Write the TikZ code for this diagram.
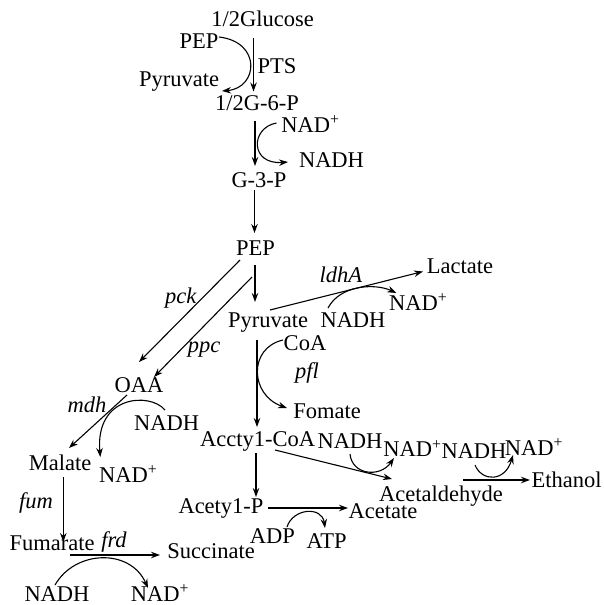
\documentclass[tikz,border=0pt]{standalone}
\usepackage{fontspec}
\setmainfont{Liberation Serif}
\usetikzlibrary{arrows.meta,calc}
\begin{document}
\begin{tikzpicture}[x=1pt,y=-1pt,
  txt/.style={anchor=base, inner sep=0pt, font=\fontsize{22.5}{27}\selectfont},
  arr/.style={-{Stealth[length=9pt,width=6.5pt]}, line width=1.1pt}]
\useasboundingbox (0,0) rectangle (603,605);
% nodes
\node[txt] (glu) at (262.5,27) {1/2Glucose};
\node[txt] (pepA) at (199,48) {PEP};
\node[txt] (pts) at (277,73) {PTS};
\node[txt] (pyrA) at (179,86) {Pyruvate};
\node[txt] (g6p) at (257,110) {1/2G-6-P};
\node[txt] (nadA) at (310.4,132) {NAD\textsuperscript{+}};
\node[txt] (nadhA) at (331.5,167) {NADH};
\node[txt] (g3p) at (259,187) {G-3-P};
\node[txt] (pepB) at (255.5,255) {PEP};
\node[txt] (pyrB) at (268,327) {Pyruvate};
\node[txt] (lac) at (460,273) {Lactate};
\node[txt] (ldha) at (341,282) {\textit{ldhA}};
\node[txt] (nadB) at (418.3,310) {NAD\textsuperscript{+}};
\node[txt] (nadhB) at (353,327) {NADH};
\node[txt] (pck) at (181,303) {\textit{pck}};
\node[txt] (ppc) at (204,352) {\textit{ppc}};
\node[txt] (coa) at (305,350) {CoA};
\node[txt] (pfl) at (307,378) {\textit{pfl}};
\node[txt] (oaa) at (139,392) {OAA};
\node[txt] (mdh) at (87,412) {\textit{mdh}};
\node[txt] (nadhC) at (166.7,430) {NADH};
\node[txt] (fom) at (327,418) {Fomate};
\node[txt] (acoa) at (257.7,446) {Accty1-CoA};
\node[txt] (nadhD) at (350,448) {NADH};
\node[txt] (nadD) at (412.5,456.7) {NAD\textsuperscript{+}};
\node[txt] (nadhE) at (474,458) {NADH};
\node[txt] (nadE) at (534,455) {NAD\textsuperscript{+}};
\node[txt] (ald) at (441,501) {Acetaldehyde};
\node[txt] (eth) at (566.7,487.5) {Ethanol};
\node[txt] (mal) at (60,470) {Malate};
\node[txt] (nadC) at (128.3,482) {NAD\textsuperscript{+}};
\node[txt] (fum) at (36,508) {\textit{fum}};
\node[txt] (acp) at (221,513) {Acety1-P};
\node[txt] (ace) at (383,518) {Acetate};
\node[txt] (adp) at (272.5,543) {ADP};
\node[txt] (atp) at (326.7,548) {ATP};
\node[txt] (fuma) at (52,550) {Fumarate};
\node[txt] (frd) at (114,547) {\textit{frd}};
\node[txt] (suc) at (211,558) {Succinate};
\node[txt] (nadhF) at (57,601) {NADH};
\node[txt] (nadF) at (160,601) {NAD\textsuperscript{+}};
% straight connectors
\draw[arr] ($(glu.base)+(-9,11)$) -- ($(g6p.base)+(-3.5,-18.5)$);
\draw[arr] ($(g6p.base)+(-2,11)$) -- ($(g3p.base)+(-4,-21)$);
\draw[arr] ($(g3p.base)+(-4.5,3)$) -- ($(pepB.base)+(-1,-22)$);
\draw[arr] ($(pepB.base)+(-0.5,10)$) -- ($(pyrB.base)+(-13,-25)$);
\draw[arr] ($(pepB.base)+(-15.5,5)$) -- ($(oaa.base)+(0,-30)$);
\draw[arr] ($(pepB.base)+(-3.5,22)$) -- ($(oaa.base)+(15,-15)$);
\draw[arr] ($(pyrB.base)+(2,-17)$) -- ($(lac.base)+(-37,-1.5)$);
\draw[arr] ($(pyrB.base)+(-11,13)$) -- ($(acoa.base)+(-0.7,-19)$);
\draw[arr] ($(oaa.base)+(-12,3)$) -- ($(mal.base)+(9,-22)$);
\draw[arr] ($(mal.base)+(3.3,7)$) -- ($(fuma.base)+(11.3,-8)$);
\draw[arr] ($(fuma.base)+(18,5)$) -- ($(suc.base)+(-51,-3)$);
\draw[arr] ($(acoa.base)+(-1.7,7)$) -- ($(acp.base)+(35,-16)$);
\draw[arr] ($(acoa.base)+(17.3,4)$) -- ($(ald.base)+(-49,-22)$);
\draw[arr] ($(ald.base)+(22,-21)$) -- ($(eth.base)+(-36.7,-7.5)$);
\draw[arr] ($(acp.base)+(47,-5)$) -- ($(ace.base)+(-35,-10)$);
% curved connectors
\draw[arr] ($(pepA.base)+(20,-11)$) .. controls (262,42) and (258,88) .. ($(pyrA.base)+(43,5)$);
\draw[arr] ($(nadA.base)+(-34,-9)$) .. controls (250,128) and (250,165) .. ($(nadhA.base)+(-43.5,-5)$);
\draw[arr] ($(nadhB.base)+(-25,-19)$) .. controls (340,285) and (375,283) .. ($(nadB.base)+(-22,-17)$);
\draw[arr] ($(coa.base)+(-22,-10)$) .. controls (248,348) and (250,395) .. ($(fom.base)+(-40,-10)$);
\draw[arr] ($(nadhC.base)+(-1.7,-20)$) .. controls (150,392) and (95,395) .. ($(nadC.base)+(-28,-25)$);
\draw[arr] ($(nadhF.base)+(-2,-16)$) .. controls (75,550) and (130,548) .. ($(nadF.base)+(-12,-13)$);
\draw[arr] ($(nadhD.base)+(0,6)$) .. controls (352,475) and (380,478) .. ($(nadD.base)+(-18.5,1.3)$);
\draw[arr] ($(nadhE.base)+(1,7)$) .. controls (482,482) and (505,482) .. ($(nadE.base)+(-21,0)$);
\draw[arr] ($(adp.base)+(14.5,-16)$) .. controls (293,508) and (322,506) .. ($(atp.base)+(-1.7,-20)$);
\end{tikzpicture}
\end{document}
